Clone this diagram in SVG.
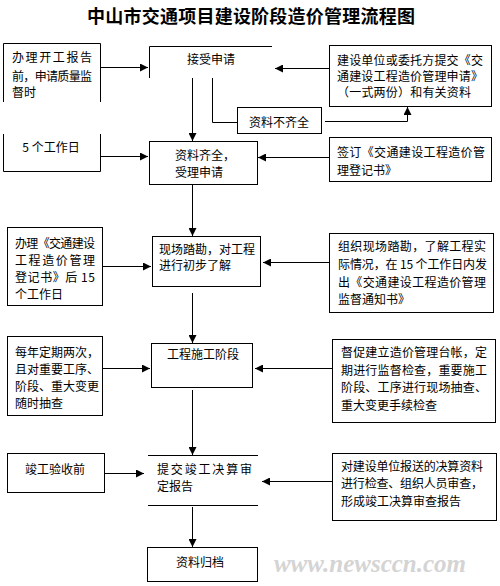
<svg xmlns="http://www.w3.org/2000/svg" width="500" height="586" viewBox="0 0 500 586">
<defs>
<style>
.bx{fill:none;stroke:#000;stroke-width:1}
.ln{fill:none;stroke:#000;stroke-width:1}
.ar{fill:none;stroke:#000;stroke-width:1;marker-end:url(#ah)}
text{font-family:"Noto Sans CJK SC","Noto Sans CJK JP",sans-serif;font-size:12px;fill:#000}
.c{text-anchor:middle}
.title{font-size:18px;font-weight:bold}
.wm{font-family:"Liberation Serif",serif;font-size:25px;font-weight:bold;font-style:italic;fill:#d4d4d4;text-anchor:middle}
</style>
<marker id="ah" markerWidth="8" markerHeight="8" refX="8" refY="4" orient="auto" markerUnits="userSpaceOnUse">
<path d="M0,0 L8,4 L0,8 z" fill="#000"/>
</marker>
</defs>
<rect width="500" height="586" fill="#fff"/>
<text class="title c" x="251" y="23" textLength="328">中山市交通项目建设阶段造价管理流程图</text>

<g id="n-kaigong">
<path class="bx" d="M3.5,102 V43.5 H100.5 V102"/>
<text x="12" y="62" textLength="80">办理开工报告</text>
<text x="12" y="81" textLength="80">前，申请质量监</text>
<text x="12" y="97">督时</text>
</g>
<g id="n-5day">
<path class="bx" d="M3.5,134 V171.5 H100.5 V134"/>
<text class="c" x="51" y="152">5 个工作日</text>
</g>
<g id="n-jieshou">
<path class="bx" d="M149.5,78 V46.5 H272"/>
<text class="c" x="211" y="64">接受申请</text>
</g>
<g id="n-buqi">
<rect class="bx" x="237.5" y="107.5" width="84" height="26"/>
<text class="c" x="279" y="127">资料不齐全</text>
</g>
<g id="n-tijiao-sq">
<rect class="bx" x="329.5" y="45.5" width="162" height="61"/>
<text x="337" y="65" textLength="146">建设单位或委托方提交《交</text>
<text x="337" y="81" textLength="146">通建设工程造价管理申请》</text>
<text x="337" y="97" textLength="134">（一式两份）和有关资料</text>
</g>
<g id="n-qiquan">
<rect class="bx" x="149.5" y="141.5" width="108" height="43"/>
<text x="175" y="160">资料齐全，</text>
<text x="175" y="177">受理申请</text>
</g>
<g id="n-qianding">
<rect class="bx" x="329.5" y="137.5" width="162" height="44"/>
<text x="337" y="157" textLength="148">签订《交通建设工程造价管</text>
<text x="337" y="175">理登记书》</text>
</g>
<g id="n-15day">
<rect class="bx" x="7.5" y="227.5" width="95" height="78"/>
<text x="15" y="248" textLength="80">办理《交通建设</text>
<text x="15" y="265" textLength="80">工程造价管理</text>
<text x="15" y="282" textLength="80">登记书》后 15</text>
<text x="15" y="299">个工作日</text>
</g>
<g id="n-kancha">
<rect class="bx" x="152.5" y="236.5" width="108" height="50"/>
<text x="159" y="254">现场踏勘，对工程</text>
<text x="159" y="270">进行初步了解</text>
</g>
<g id="n-zuzhi">
<rect class="bx" x="329.5" y="233.5" width="164" height="79"/>
<text x="338" y="251" textLength="148">组织现场踏勘，了解工程实</text>
<text x="338" y="269" textLength="149">际情况，在 15 个工作日内发</text>
<text x="338" y="287" textLength="148">出《交通建设工程造价管理</text>
<text x="338" y="304">监督通知书》</text>
</g>
<g id="n-shigong">
<rect class="bx" x="151.5" y="343.5" width="101" height="44"/>
<text class="c" x="203" y="359">工程施工阶段</text>
</g>
<g id="n-choucha">
<rect class="bx" x="7.5" y="336.5" width="95" height="79"/>
<text x="15" y="357">每年定期两次，</text>
<text x="15" y="374">且对重要工序、</text>
<text x="15" y="391">阶段、重大变更</text>
<text x="15" y="408">随时抽查</text>
</g>
<g id="n-duchu">
<rect class="bx" x="332.5" y="339.5" width="163" height="83"/>
<text x="341" y="357" textLength="146">督促建立造价管理台帐，定</text>
<text x="341" y="375" textLength="146">期进行监督检查，重要施工</text>
<text x="341" y="392" textLength="146">阶段、工序进行现场抽查、</text>
<text x="341" y="410">重大变更手续检查</text>
</g>
<g id="n-yanshou">
<rect class="bx" x="7.5" y="453.5" width="97" height="39"/>
<text class="c" x="55" y="474">竣工验收前</text>
</g>
<g id="n-juesuan">
<path class="bx" d="M148,455.5 H258 M148,505.5 H258"/>
<text x="157" y="474" textLength="95">提交竣工决算审</text>
<text x="157" y="491">定报告</text>
</g>
<g id="n-shencha">
<rect class="bx" x="332.5" y="453.5" width="164" height="67"/>
<text x="341" y="471" textLength="142">对建设单位报送的决算资料</text>
<text x="341" y="488" textLength="142">进行检查、组织人员审查，</text>
<text x="341" y="506">形成竣工决算审查报告</text>
</g>
<g id="n-guidang">
<rect class="bx" x="147.5" y="547.5" width="110" height="34"/>
<text x="176" y="567">资料归档</text>
</g>

<g id="connectors">
<path class="ar" d="M100.5,67.5 H148"/>
<path class="ar" d="M329.5,68.5 H275"/>
<path class="ar" d="M192.5,78 V141"/>
<path class="ln" d="M212.5,78 V122.5 H237.5"/>
<path class="ar" d="M325,121.5 H407.5 V107"/>
<path class="ar" d="M100.5,156.5 H148"/>
<path class="ar" d="M329.5,157.5 H258"/>
<path class="ar" d="M192.5,185 V236"/>
<path class="ar" d="M102.5,266.5 H151"/>
<path class="ar" d="M329.5,262.5 H263"/>
<path class="ar" d="M192.5,293 V343"/>
<path class="ar" d="M102.5,368.5 H150"/>
<path class="ar" d="M332.5,368.5 H255"/>
<path class="ar" d="M192.5,390 V455"/>
<path class="ar" d="M104.5,473.5 H144"/>
<path class="ar" d="M332.5,481.5 H262"/>
<path class="ar" d="M192.5,507 V547"/>
</g>

<text class="wm" x="370" y="572">www.newsccn.com</text>
</svg>
